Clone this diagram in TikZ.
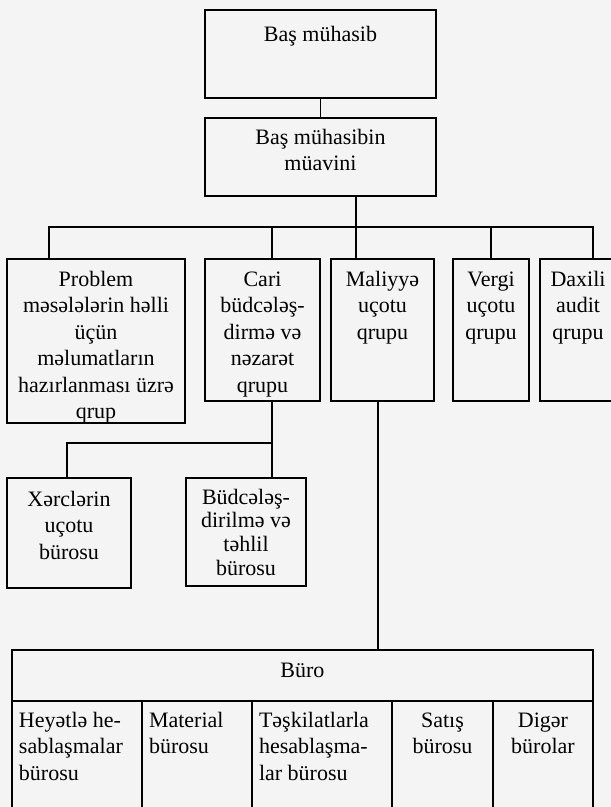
\documentclass[tikz,border=0pt]{standalone}
\usepackage{fontspec}
\setmainfont{Liberation Serif}
\usepackage{tikz}
\usetikzlibrary{positioning}

% text inside a box: width, height, first line height, lines
\newcommand{\boxtxt}[4][27pt]{\parbox[c][#3][t]{#2}{\centering\rule{0pt}{#1}#4}}
\newcommand{\celltxt}[3]{\parbox[c][#2][t]{#1}{\raggedright\leftskip=7pt\rule{0pt}{26pt}#3}}

\tikzset{
  unit/.style={draw, line width=1.3pt, inner sep=0pt, outer sep=0pt, anchor=north west},
  link/.style={line width=1.3pt}
}

\begin{document}
\begin{tikzpicture}[x=1pt,y=-1pt,font=\fontsize{22}{26.5}\selectfont]
            % page
            \fill[gray!9] (0,0) rectangle (611,807);
            \useasboundingbox (0,0) rectangle (611,807);

            % management
            \node[unit] (bas) at (205,10) {\boxtxt[31pt]{231pt}{88pt}{Baş mühasib}};
            \node[unit] (muavin) at (205,118) {\boxtxt[26pt]{231pt}{78pt}{Baş mühasibin\\müavini}};

            % groups
            \node[unit] (prob) at (7,259) {\boxtxt{178pt}{164pt}{Problem\\məsələlərin həlli\\üçün\\məlumatların\\hazırlanması üzrə\\qrup}};
            \node[unit] (cari) at (205,259) {\boxtxt{115pt}{142pt}{Cari\\büdcələş-\\dirmə və\\nəzarət\\qrupu}};
            \node[unit] (mal) at (331,259) {\boxtxt{103pt}{142pt}{Maliyyə\\uçotu\\qrupu}};
            \node[unit] (vergi) at (453,259) {\boxtxt{76pt}{142pt}{Vergi\\uçotu\\qrupu}};
            \node[unit] (daxili) at (540,259) {\boxtxt{76pt}{142pt}{Daxili\\audit\\qrupu}};

            % sub-units of budgeting group
            \node[unit] (xerc) at (7,478) {\boxtxt[28pt]{124pt}{110pt}{Xərclərin\\uçotu\\bürosu}};
            \node[unit] (budce) at (186,478) {\boxtxt[26pt]{120pt}{108pt}{\fontsize{22}{23.7}\selectfont Büdcələş-\\dirilmə və\\təhlil\\bürosu}};

            % bureau table
            \node[unit] (buro) at (12,650) {\boxtxt[27pt]{581pt}{51pt}{Büro}};
            \node[unit] (heyet) at (12,701) {\celltxt{130pt}{130pt}{Heyətlə he-\\sablaşmalar\\bürosu}};
            \node[unit] (mater) at (142,701) {\celltxt{110pt}{130pt}{Material\\bürosu}};
            \node[unit] (teskil) at (252,701) {\celltxt{140pt}{130pt}{Təşkilatlarla\\hesablaşma-\\lar bürosu}};
            \node[unit] (satis) at (392,701) {\boxtxt[26pt]{101pt}{130pt}{Satış\\bürosu}};
            \node[unit] (diger) at (493,701) {\boxtxt[26pt]{100pt}{130pt}{Digər\\bürolar}};

            % connectors
            \coordinate (bus) at (356,227);
            \coordinate (split) at (272,443);
            \draw[link] (bas) -- (muavin);
            \draw[link] (muavin.south -| bus) -- (bus);
            \draw[link] (bus) -| ([xshift=42pt]prob.north west);
            \draw[link] (bus) -| ([xshift=67pt]cari.north west);
            \draw[link] (bus) -- (bus |- mal.north);
            \draw[link] (bus) -| (vergi.north);
            \draw[link] (bus) -| ([xshift=53pt]daxili.north west);

            \draw[link] (split |- cari.south) -- (split |- budce.north);
            \draw[link] (split) -| ([xshift=60pt]xerc.north west);

            \draw[link] ([xshift=47pt]mal.south west) coordinate (m) -- (m |- buro.north);
        \end{tikzpicture}
\end{document}
